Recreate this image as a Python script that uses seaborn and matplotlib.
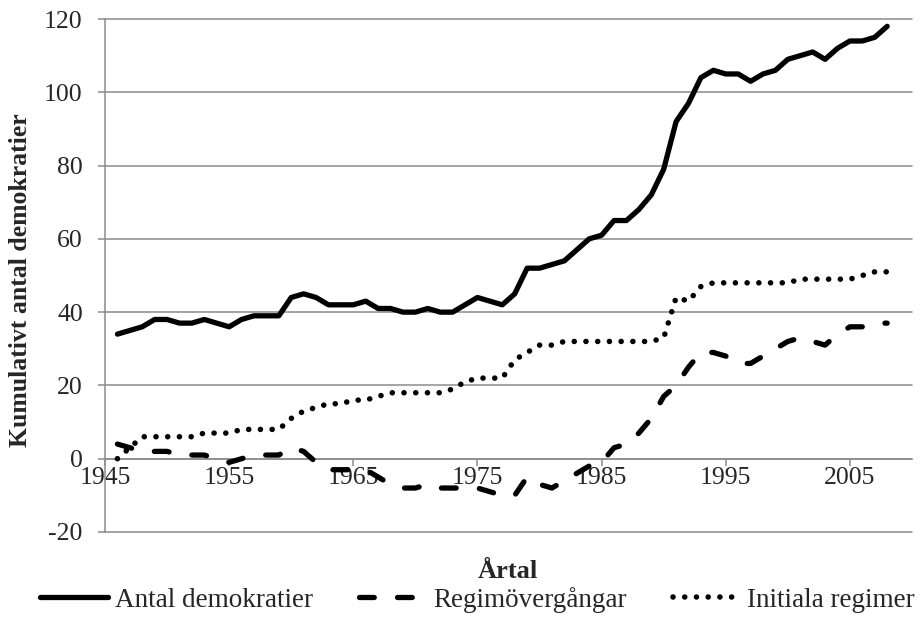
import numpy as np
import pandas as pd
import seaborn as sns
import matplotlib.pyplot as plt

# Data (values per year, 1946-2008)
years = list(range(1946, 2009))
antal_demokratier = [34, 35, 36, 38, 38, 37, 37, 38, 37, 36,
                     38, 39, 39, 39, 44, 45, 44, 42, 42, 42,
                     43, 41, 41, 40, 40, 41, 40, 40, 42, 44,
                     43, 42, 45, 52, 52, 53, 54, 57, 60, 61,
                     65, 65, 68, 72, 79, 92, 97, 104, 106, 105,
                     105, 103, 105, 106, 109, 110, 111, 109, 112, 114,
                     114, 115, 118]
regimovergangar = [4, 3, 2, 2, 2, 1, 1, 1, 0, -1,
                   0, 1, 1, 1, 3, 2, -1, -3, -3, -3,
                   -3, -5, -7, -8, -8, -7, -8, -8, -8, -8,
                   -9, -10, -10, -5, -7, -8, -6, -4, -2, -1,
                   3, 4, 7, 11, 17, 20, 25, 29, 29, 28,
                   26, 26, 28, 30, 32, 33, 32, 31, 34, 36,
                   36, 37, 37]
initiala_regimer = [0, 3, 6, 6, 6, 6, 6, 7, 7, 7,
                    8, 8, 8, 8, 11, 13, 14, 15, 15, 16,
                    16, 17, 18, 18, 18, 18, 18, 19, 21, 22,
                    22, 22, 27, 29, 31, 31, 32, 32, 32, 32,
                    32, 32, 32, 32, 33, 44, 43, 47, 48, 48,
                    48, 48, 48, 48, 48, 49, 49, 49, 49, 49,
                    50, 51, 51]
series_labels = ['Antal demokratier', 'Regimövergångar', 'Initiala regimer']
y_ticks = [-20, 0, 20, 40, 60, 80, 100, 120]
x_ticks = [1945, 1955, 1965, 1975, 1985, 1995, 2005]

sns.set_style('white')
plt.rcParams['font.family'] = ['Liberation Serif', 'DejaVu Serif']

grey = '#8c8c8c'
fs = 18.5

fig = plt.figure(figsize=(9.22, 6.28), dpi=100)
ax = fig.add_axes([105 / 922, 1 - 532 / 628, (912 - 105) / 922, (532 - 19) / 628])

sns.lineplot(x=years, y=antal_demokratier, ax=ax, color='black', linewidth=3.8,
             solid_capstyle='round', solid_joinstyle='round',
             label=series_labels[0], legend=False, zorder=5)
sns.lineplot(x=years, y=regimovergangar, ax=ax, color='black', linewidth=3.8,
             linestyle=(0, (2.8, 4.4)), dash_capstyle='round', dash_joinstyle='round',
             label=series_labels[1], legend=False, zorder=5)
sns.lineplot(x=years, y=initiala_regimer, ax=ax, color='black', linewidth=4,
             linestyle=(0, (0.01, 2.1)), dash_capstyle='round',
             label=series_labels[2], legend=False, zorder=5)

ax.set_xlim(1945, 2010)
ax.set_ylim(-20, 120)
ax.set_yticks(y_ticks)
ax.set_xticks(x_ticks)
ax.set_xticklabels([str(x) for x in x_ticks])
ax.set_yticklabels([str(y) for y in y_ticks])
ax.set_xlabel('')
ax.set_ylabel('')

ax.grid(axis='y', color=grey, linewidth=1.1)
ax.grid(axis='x', visible=False)
for line in ax.get_ygridlines():
    line.set_clip_on(False)

for s in ['top', 'right']:
    ax.spines[s].set_visible(False)
ax.spines['left'].set_color(grey)
ax.spines['left'].set_linewidth(1.1)
ax.spines['bottom'].set_color(grey)
ax.spines['bottom'].set_linewidth(1.1)
ax.spines['bottom'].set_position(('data', 0))

ax.tick_params(axis='both', which='major', direction='out', length=5, width=1.1,
               color=grey, labelsize=fs, left=True, bottom=True)
ax.tick_params(axis='y', pad=11)
ax.tick_params(axis='x', pad=1)

fig.text(508 / 922, 1 - 571 / 628, 'Årtal', ha='center', va='center',
         fontsize=fs + 0.5, fontweight='bold')
fig.text(21 / 922, 1 - 280 / 628, 'Kumulativt antal demokratier', ha='center', va='center',
         rotation=90, fontsize=fs, fontweight='bold')

handles, labels = ax.get_legend_handles_labels()
fig.legend(handles, labels, loc='center', bbox_to_anchor=(0.518, 1 - 600 / 628), ncol=3,
           frameon=False, fontsize=19.5, handlelength=2.5, handletextpad=0.25,
           columnspacing=1.7, borderaxespad=0)

plt.savefig('out.png', dpi=100, facecolor='white')
